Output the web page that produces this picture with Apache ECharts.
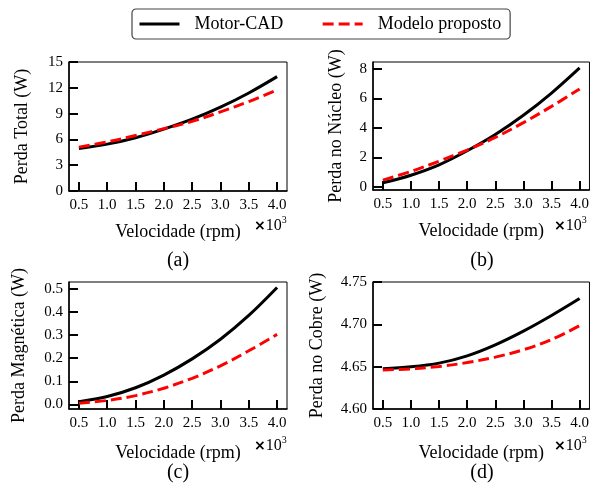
<!DOCTYPE html>
<html>
<head>
<meta charset="utf-8">
<script src="https://cdn.jsdelivr.net/npm/echarts@6/dist/echarts.min.js"></script>
<style>html,body{margin:0;padding:0;background:#fff}#c{width:592px;height:493px}</style>
</head>
<body>
<div id="c"></div>
<script>
// ---- data (speed in rpm x 10^3) ----
const speed = [0.5, 1.0, 1.5, 2.0, 2.5, 3.0, 3.5, 4.0];
const xTicks = [0.5, 1.0, 1.5, 2.0, 2.5, 3.0, 3.5, 4.0];
const seriesNames = ['Motor-CAD', 'Modelo proposto'];

const totalMotorCAD = [4.95, 5.45, 6.2, 7.2, 8.35, 9.75, 11.4, 13.3];
const totalModelo   = [5.1, 5.7, 6.45, 7.25, 8.1, 9.2, 10.4, 11.75];

const coreMotorCAD  = [0.29, 0.8, 1.5, 2.45, 3.55, 4.85, 6.35, 8.05];
const coreModelo    = [0.47, 1.05, 1.75, 2.5, 3.35, 4.35, 5.45, 6.63];

const magMotorCAD   = [0.012, 0.034, 0.072, 0.127, 0.197, 0.282, 0.385, 0.506];
const magModelo     = [0.005, 0.017, 0.038, 0.070, 0.113, 0.167, 0.232, 0.303];

const cuMotorCAD    = [4.6476, 4.6498, 4.6542, 4.6628, 4.6758, 4.6920, 4.7105, 4.7305];
const cuModelo      = [4.6461, 4.6474, 4.6502, 4.6548, 4.6613, 4.6700, 4.6820, 4.6984];

const yTicksTotal = [0, 3, 6, 9, 12, 15];
const yTicksCore  = [0, 2, 4, 6, 8];
const yTicksMag   = [0.0, 0.1, 0.2, 0.3, 0.4, 0.5];
const yTicksCu    = [4.60, 4.65, 4.70, 4.75];

const yTitles = ['Perda Total (W)', 'Perda no Núcleo (W)', 'Perda Magnética (W)', 'Perda no Cobre (W)'];
const xTitle = 'Velocidade (rpm)';
const panelLabels = ['(a)', '(b)', '(c)', '(d)'];

// ---- layout ----
const SERIF = 'Liberation Serif';
const grids = [
  {left: 69,  top: 62,  width: 218, height: 129},
  {left: 373, top: 62,  width: 218, height: 128},
  {left: 69,  top: 282, width: 218, height: 127},
  {left: 373, top: 282, width: 218, height: 127}
];
const yCfg = [
  {min: 0, max: 15, ticks: yTicksTotal, dec: 0, gap: 38},
  {min: -0.2, max: 8.45, ticks: yTicksCore, dec: 0, gap: 28},
  {min: -0.02, max: 0.53, ticks: yTicksMag, dec: 1, gap: 41},
  {min: 4.60, max: 4.75, ticks: yTicksCu, dec: 2, gap: 47}
];
const expOffset = [185, 181, 185, 181];
const dataSets = [
  [totalMotorCAD, totalModelo],
  [coreMotorCAD, coreModelo],
  [magMotorCAD, magModelo],
  [cuMotorCAD, cuModelo]
];

const zip = arr => speed.map((x, i) => [x, arr[i]]);

const xAxes = [], yAxes = [], series = [], titles = [];
grids.forEach((g, i) => {
  const rowTop = i < 2;
  g.show = true; g.borderColor = '#000'; g.borderWidth = 1;
  xAxes.push({
    type: 'value', gridIndex: i, min: 0.325, max: 4.175,
    name: xTitle, nameLocation: 'middle', nameGap: rowTop ? 32 : 35,
    nameTextStyle: {fontFamily: SERIF, fontSize: 18, color: '#000'},
    axisLine: {show: true, onZero: false, lineStyle: {color: '#000', width: 1.5}},
    axisTick: {show: true, inside: true, length: 9, customValues: xTicks, lineStyle: {color: '#000', width: 2}},
    axisLabel: {customValues: xTicks, margin: 7, fontFamily: SERIF, fontSize: 15, color: '#000',
      formatter: v => v.toFixed(1)},
    splitLine: {show: false}
  });
  const c = yCfg[i];
  yAxes.push({
    type: 'value', gridIndex: i, min: c.min, max: c.max,
    name: yTitles[i], nameLocation: 'middle', nameGap: c.gap, nameRotate: 90,
    nameTextStyle: {fontFamily: SERIF, fontSize: 18, color: '#000'},
    axisLine: {show: true, onZero: false, lineStyle: {color: '#000', width: 1.5}},
    axisTick: {show: true, inside: true, length: 9, customValues: c.ticks, lineStyle: {color: '#000', width: 2}},
    axisLabel: {customValues: c.ticks, margin: 6, fontFamily: SERIF, fontSize: 15, color: '#000',
      formatter: v => v.toFixed(c.dec)},
    splitLine: {show: false}
  });
  series.push({
    name: seriesNames[0], type: 'line', xAxisIndex: i, yAxisIndex: i,
    data: zip(dataSets[i][0]), smooth: 0.35, symbol: 'none', z: 2,
    lineStyle: {color: '#000', width: 3}, itemStyle: {color: '#000'}
  });
  series.push({
    name: seriesNames[1], type: 'line', xAxisIndex: i, yAxisIndex: i,
    data: zip(dataSets[i][1]), smooth: 0.35, symbol: 'none', z: 3,
    lineStyle: {color: '#ff0000', width: 3, type: [11, 5]}, itemStyle: {color: '#ff0000'}
  });
  const cx = g.left + g.width / 2;
  titles.push({
    text: panelLabels[i], left: cx, top: rowTop ? 251 : 463, textAlign: 'center', padding: 0,
    textStyle: {fontFamily: SERIF, fontSize: 20, fontWeight: 'normal', color: '#000'}
  });
  titles.push({
    text: '{x|×}{n|10}{s|3}', left: g.left + expOffset[i], top: rowTop ? 214 : 434, padding: 0,
    textStyle: {
      fontWeight: 'normal',
      rich: {
        x: {fontFamily: 'DejaVu Sans', fontWeight: 'bold', fontSize: 14, color: '#000', padding: [4, 0, 0, 0]},
        n: {fontFamily: SERIF, fontWeight: 'normal', fontSize: 16, color: '#000', padding: [4, 0, 0, 0]},
        s: {fontFamily: SERIF, fontWeight: 'normal', fontSize: 10, color: '#000', padding: [0, 0, 8, 0]}
      }
    }
  });
});

const chart = echarts.init(document.getElementById('c'), null, {renderer: 'canvas'});
chart.setOption({
  animation: false,
  backgroundColor: '#fff',
  title: titles,
  legend: {
    data: seriesNames, left: 132, top: 9, orient: 'horizontal',
    padding: [6, 9, 6, 6], itemWidth: 40, itemHeight: 18, itemGap: 38,
    borderColor: '#444', borderWidth: 1.2, borderRadius: 4,
    itemStyle: {opacity: 0},
    lineStyle: {width: 3},
    textStyle: {fontFamily: SERIF, fontSize: 18, color: '#000', padding: [0, 0, 0, 10]}
  },
  grid: grids, xAxis: xAxes, yAxis: yAxes, series: series
});
</script>
</body>
</html>
